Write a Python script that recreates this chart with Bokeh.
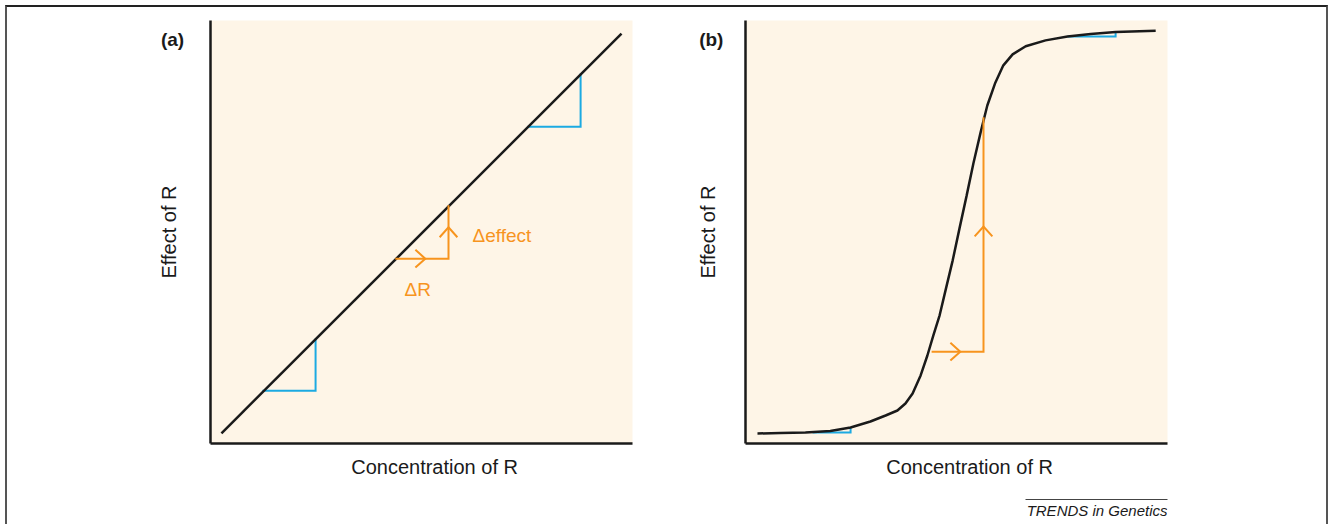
from bokeh.plotting import figure
from bokeh.layouts import row, column
from bokeh.models import Range1d, FixedTicker, Label
from bokeh.embed import file_html
from bokeh.resources import INLINE
from bokeh.core.properties import value

# ---------------- data (units: 0-100 of each axis) ----------------
# panel (a): linear response
a_line_x = [2.6, 97.4]
a_line_y = [2.4, 96.9]
a_blue_x = [[12.3, 24.9, 24.9], [75.1, 87.7, 87.7]]
a_blue_y = [[12.5, 12.5, 24.8], [74.9, 74.9, 87.5]]
a_orange_x = [43.8, 56.4, 56.4]
a_orange_y = [43.7, 43.7, 56.3]
a_tip_right = (50.9, 43.7)
a_tip_up = (56.4, 51.1)
a_text = ["\u0394effect", "\u0394R"]
a_text_x = [62.1, 46.0]
a_text_y = [49.2, 36.3]

# panel (b): sigmoidal response
b_curve_x = [2.84, 8.29, 14.2, 20.1, 24.9, 29.6, 33.2, 36.0, 37.9, 39.6, 41.5,
             43.1, 44.5, 46.0, 47.4, 49.1, 50.7, 52.4, 54.0, 55.7, 57.3, 59.2,
             61.1, 63.3, 66.4, 71.1, 76.3, 81.8, 87.7, 97.2]
b_curve_y = [2.36, 2.48, 2.60, 2.96, 3.78, 5.20, 6.62, 7.80, 9.46, 11.8, 16.1,
             20.8, 25.5, 30.3, 36.2, 43.3, 50.8, 58.6, 66.2, 73.5, 79.9, 85.3,
             89.4, 92.0, 93.9, 95.3, 96.2, 96.8, 97.3, 97.6]
b_blue_x = [[15.9, 24.9, 24.9], [76.3, 87.7, 87.7]]
b_blue_y = [[2.60, 2.60, 3.78], [96.2, 96.2, 97.3]]
b_orange_x = [44.1, 56.4, 56.4]
b_orange_y = [21.7, 21.7, 77.1]
b_tip_right = (50.9, 21.7)
b_tip_up = (56.4, 51.3)

x_label = "Concentration of R"
y_label = "Effect of R"
panel_tags = ["(a)", "(b)"]
footer = "TRENDS in Genetics"
footer_rule = (66.4, 100)   # extent of the rule above the credit line

# ---------------- styles ----------------
BEIGE = "#FEF5E7"
ORANGE = "#F7941E"
BLUE = "#1CAAE2"
INK = "#1a1a1a"
FONT = "Liberation Sans"
CH_D = 2.35   # chevron depth (axis units)
CH_H = 2.1    # chevron half width
HM = 480      # height of the two panels
HF = 37       # height of the credit strip


def chevron_right(tx, ty):
    return [tx - CH_D, tx, tx - CH_D], [ty + CH_H, ty, ty - CH_H]


def chevron_up(tx, ty):
    return [tx - CH_H, tx, tx + CH_H], [ty - CH_D, ty, ty - CH_D]


def bare(ax, width=2.5, color=INK):
    ax.ticker = FixedTicker(ticks=[])
    ax.major_tick_line_color = None
    ax.minor_tick_line_color = None
    ax.major_tick_out = 0
    ax.minor_tick_out = 0
    ax.major_tick_in = 0
    ax.minor_tick_in = 0
    ax.major_label_text_font_size = "0px"
    ax.major_label_standoff = 0
    ax.axis_label_text_font = FONT
    ax.axis_label_text_font_style = "normal"
    ax.axis_label_text_font_size = "20px"
    ax.axis_label_text_color = INK
    ax.axis_line_width = width
    ax.axis_line_color = color


def make_fig(width, left, right, ystand):
    p = figure(width=width, height=HM, x_range=Range1d(0, 100), y_range=Range1d(0, 100),
               output_backend="svg", toolbar_location=None,
               min_border_left=left, min_border_right=right,
               min_border_top=13, min_border_bottom=HM - 13 - 423,
               background_fill_color=BEIGE, border_fill_color="white",
               outline_line_color=None, y_axis_label=y_label)
    p.grid.visible = False
    bare(p.xaxis[0])
    bare(p.yaxis[0])
    p.yaxis[0].axis_label_standoff = ystand
    # x-axis title, set a little right of the frame centre as in the original
    p.add_layout(Label(x=53.1, y=-5.44, text=x_label, text_font=FONT, text_font_size="20px",
                       text_color=INK, text_align="center", text_baseline="middle"), "below")
    return p


def add_arrows(p, ox, oy, tr, tu):
    p.line(ox, oy, line_color=ORANGE, line_width=2, line_join="miter")
    xr, yr = chevron_right(*tr)
    xu, yu = chevron_up(*tu)
    p.multi_line([xr, xu], [yr, yu], line_color=ORANGE, line_width=2, line_join="miter")


# panel (a)
pa = make_fig(653, 203, 28, 31)
pa.multi_line(a_blue_x, a_blue_y, line_color=BLUE, line_width=2, line_join="miter")
pa.line(a_line_x, a_line_y, line_color=INK, line_width=2.5)
add_arrows(pa, a_orange_x, a_orange_y, a_tip_right, a_tip_up)
pa.text(a_text_x, a_text_y, text=a_text, text_color=ORANGE, text_font=value(FONT),
        text_font_size="19px", text_align="left", text_baseline="middle")
pa.add_layout(Label(x=-9.0, y=95.5, text=panel_tags[0], text_font=FONT, text_font_style="bold",
                    text_font_size="19px", text_color=INK, text_align="center",
                    text_baseline="middle"), "left")

# panel (b)
pb = make_fig(666, 85, 159, 27)
pb.multi_line(b_blue_x, b_blue_y, line_color=BLUE, line_width=2, line_join="miter")
pb.line(b_curve_x, b_curve_y, line_color=INK, line_width=2.5)
add_arrows(pb, b_orange_x, b_orange_y, b_tip_right, b_tip_up)
pb.add_layout(Label(x=-8.1, y=95.5, text=panel_tags[1], text_font=FONT, text_font_style="bold",
                    text_font_size="19px", text_color=INK, text_align="center",
                    text_baseline="middle"), "left")

# credit strip (shares panel (b)'s horizontal scale)
pf = figure(width=1319, height=HF, x_range=Range1d(0, 100), y_range=Range1d(0, 1),
            output_backend="svg", toolbar_location=None, x_axis_location="above",
            y_axis_location=None, min_border_left=738, min_border_right=159,
            min_border_top=12, min_border_bottom=0, background_fill_color="white",
            border_fill_color="white", outline_line_color=None)
pf.grid.visible = False
bare(pf.xaxis[0], width=1, color="#444444")
pf.xaxis[0].bounds = footer_rule
pf.add_layout(Label(x=100, y=0.56, text=footer, text_font=FONT, text_font_style="italic",
                    text_font_size="15px", text_color=INK, text_align="right",
                    text_baseline="middle"))

layout = column(row(pa, pb), pf, margin=(5, 0, 0, 5),
                styles={"border-top": "2px solid #222", "border-left": "2px solid #555",
                        "border-right": "2px solid #555"})

open("out.html", "w").write(file_html(layout, INLINE))
